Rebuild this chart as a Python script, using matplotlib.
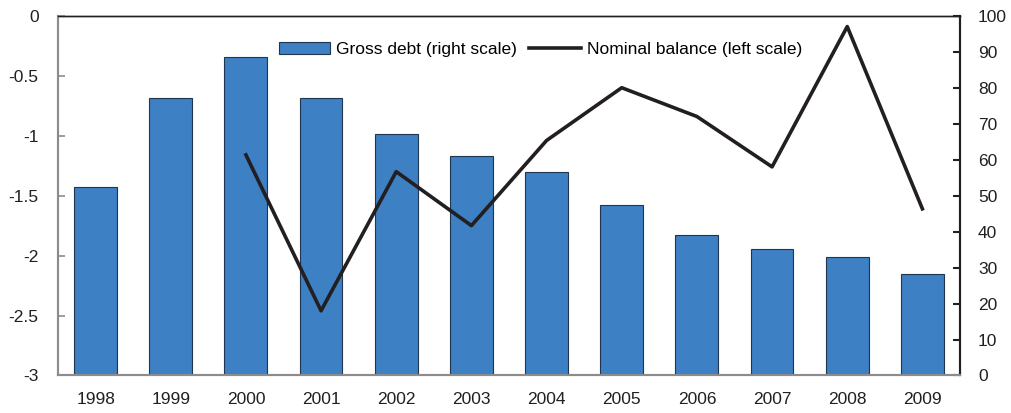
import matplotlib.pyplot as plt
import numpy as np

years = ['1998', '1999', '2000', '2001', '2002', '2003', '2004', '2005',
         '2006', '2007', '2008', '2009']
gross_debt = [52.3, 77.2, 88.5, 77.1, 67.0, 61.1, 56.5, 47.3, 39.0, 35.1, 32.9, 28.3]
# nominal balance starts in 2000
balance_years = years[2:]
nominal_balance = [-1.16, -2.46, -1.30, -1.75, -1.04, -0.60, -0.84, -1.26, -0.09, -1.61]

plt.rcParams['font.family'] = ['Liberation Sans', 'DejaVu Sans']
plt.rcParams['font.size'] = 12.5

fig = plt.figure(figsize=(10.12, 4.13), dpi=100)
ax = fig.add_axes([0.0573, 0.0908, 0.8913, 0.871])
ax2 = ax.twinx()

x = np.arange(len(years))
# bars on the right scale, line on the left scale
bars = ax2.bar(x, gross_debt, width=0.57, color='#3d80c3', edgecolor='#1f3550',
               linewidth=0.8, label='Gross debt (right scale)', zorder=2)
xb = np.array([years.index(y) for y in balance_years])
line, = ax.plot(xb, nominal_balance, color='#231f20', linewidth=2.6,
                label='Nominal balance (left scale)', zorder=3)

ax.set_zorder(ax2.get_zorder() + 1)
ax.patch.set_visible(False)

ax.set_xlim(-0.5, 11.5)
ax.set_ylim(-3, 0)
ax2.set_ylim(0, 100)
ax.set_xticks(x)
ax.set_xticklabels(years)
ax.set_yticks([0, -0.5, -1, -1.5, -2, -2.5, -3])
ax.set_yticklabels(['0', '-0.5', '-1', '-1.5', '-2', '-2.5', '-3'])
ax2.set_yticks(range(0, 101, 10))

for a in (ax, ax2):
    a.spines['left'].set_color('#8c8c8c')
    a.spines['bottom'].set_color('#8c8c8c')
    a.spines['left'].set_linewidth(1.5)
    a.spines['bottom'].set_linewidth(1.5)
    a.spines['top'].set_color('#231f20')
    a.spines['top'].set_linewidth(1.0)
    a.spines['right'].set_color('#231f20')
    a.spines['right'].set_linewidth(1.5)

ax.tick_params(axis='x', length=0, pad=12, colors='#231f20')
ax.tick_params(axis='y', direction='in', length=5, width=1.2, color='#8c8c8c',
               labelcolor='#231f20', pad=14)
ax2.tick_params(axis='y', direction='in', length=5, width=1.5, color='#231f20',
                labelcolor='#231f20', pad=13)

ax.legend([bars, line], [bars.get_label(), line.get_label()], loc='center',
          bbox_to_anchor=(0.535, 0.907), ncol=2, frameon=False, handlelength=2.95,
          handletextpad=0.35, columnspacing=0.7, fontsize=12.5)

plt.savefig('out.png', dpi=100)
